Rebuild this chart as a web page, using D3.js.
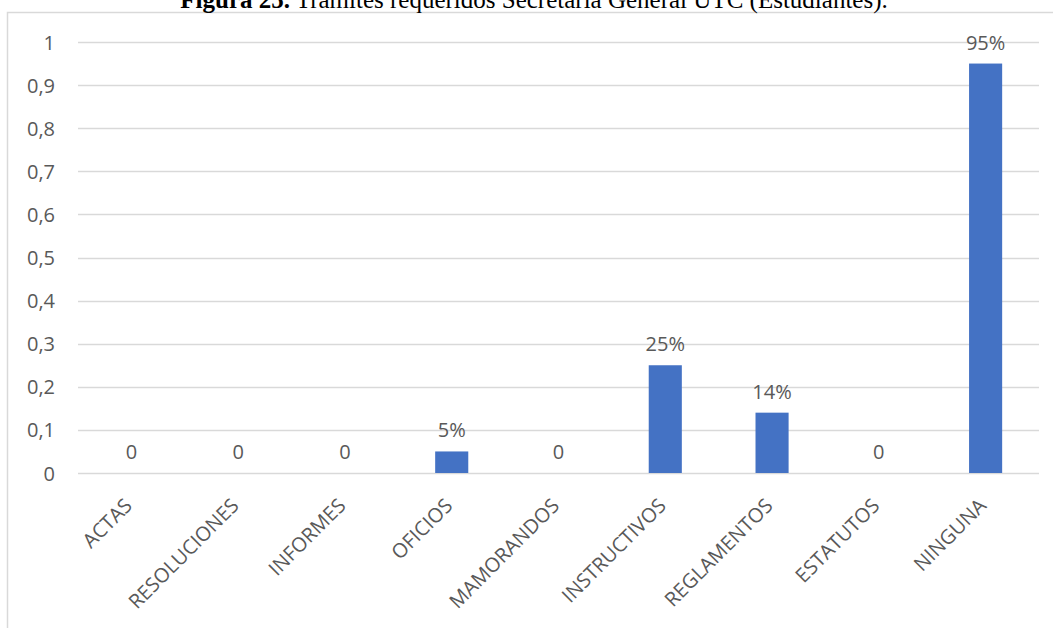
<!DOCTYPE html>
<html>
<head>
<meta charset="utf-8">
<script src="https://cdn.jsdelivr.net/npm/d3@7"></script>
<style>
  body { margin: 0; background: #fff; }
  svg { display: block; }
</style>
</head>
<body>
<script>
(function() {

	var width = 1053,
		height = 628;

	// data
	var categories = ["ACTAS", "RESOLUCIONES", "INFORMES", "OFICIOS", "MAMORANDOS",
		"INSTRUCTIVOS", "REGLAMENTOS", "ESTATUTOS", "NINGUNA"];
	var values = [0, 0, 0, 0.05, 0, 0.25, 0.14, 0, 0.95];
	var valueLabels = ["0", "0", "0", "5%", "0", "25%", "14%", "0", "95%"];
	var yTicks = [0, 0.1, 0.2, 0.3, 0.4, 0.5, 0.6, 0.7, 0.8, 0.9, 1];

	// colors
	var barColor = "#4472c4",
		gridColor = "#d9d9d9",
		textColor = "#595959";

	var font = "'Open Sans', 'Liberation Sans', sans-serif";
	var plotLeft = 78, plotRight = 1039, plotTop = 42, plotBottom = 473;

	var svg = d3.select("body").append("svg")
		.attr("width", width)
		.attr("height", height);

	// chart frame
	svg.append("path")
		.attr("d", "M7.5," + height + "V12.5H" + width)
		.attr("fill", "none")
		.attr("stroke", gridColor)
		.attr("stroke-width", 1.5);

	// title (cut at top, like the source)
	var title = svg.append("text")
		.attr("x", 534)
		.attr("y", 8)
		.attr("text-anchor", "middle")
		.attr("font-family", "'Liberation Serif', 'Times New Roman', serif")
		.attr("font-size", 25)
		.attr("fill", "#000");
	title.append("tspan").attr("font-weight", "bold").text("Figura 25.");
	title.append("tspan").text(" Trámites requeridos Secretaría General UTC (Estudiantes).");

	var x = d3.scaleBand()
		.domain(categories)
		.range([plotLeft, plotRight])
		.paddingInner(0.69)
		.paddingOuter(0.345);

	var y = d3.scaleLinear()
		.domain([0, 1])
		.range([plotBottom, plotTop]);

	// gridlines
	svg.append("g")
		.selectAll("line")
		.data(yTicks)
		.enter()
		.append("line")
		.attr("x1", plotLeft)
		.attr("x2", plotRight)
		.attr("y1", function(d) { return Math.round(y(d)) + 0.5; })
		.attr("y2", function(d) { return Math.round(y(d)) + 0.5; })
		.attr("stroke", gridColor)
		.attr("stroke-width", 1.3);

	// y axis labels
	var yAxis = svg.append("g")
		.attr("transform", "translate(" + (plotLeft - 23) + ",0)")
		.call(d3.axisLeft(y).tickValues(yTicks).tickSize(0)
			.tickFormat(function(d) { return d3.format(".1~f")(d).replace(".", ","); }));
	yAxis.select(".domain").remove();
	yAxis.selectAll("text")
		.attr("font-family", font)
		.attr("font-size", 20)
		.attr("fill", textColor)
		.attr("x", 0)
		.attr("dy", "0.35em");

	// bars
	svg.selectAll(".bar")
		.data(values)
		.enter()
		.append("rect")
		.attr("class", "bar")
		.attr("x", function(d, i) { return x(categories[i]); })
		.attr("y", function(d) { return y(d); })
		.attr("width", x.bandwidth())
		.attr("height", function(d) { return y(0) - y(d); })
		.attr("fill", barColor);

	// value labels
	svg.selectAll(".vlabel")
		.data(values)
		.enter()
		.append("text")
		.attr("class", "vlabel")
		.attr("x", function(d, i) { return x(categories[i]) + x.bandwidth() / 2; })
		.attr("y", function(d) { return y(d) - 14; })
		.attr("text-anchor", "middle")
		.attr("font-family", font)
		.attr("font-size", 20)
		.attr("fill", textColor)
		.text(function(d, i) { return valueLabels[i]; });

	// x axis labels
	var xAxis = svg.append("g")
		.attr("transform", "translate(0," + plotBottom + ")")
		.call(d3.axisBottom(x).tickSize(0));
	xAxis.select(".domain").remove();
	xAxis.selectAll("text")
		.attr("font-family", font)
		.attr("font-size", 20)
		.attr("fill", textColor)
		.attr("text-anchor", "end")
		.attr("dy", "0.35em")
		.attr("transform", "translate(-3,29) rotate(-45)")
		.attr("x", 0)
		.attr("y", 0);

})();
</script>
</body>
</html>
